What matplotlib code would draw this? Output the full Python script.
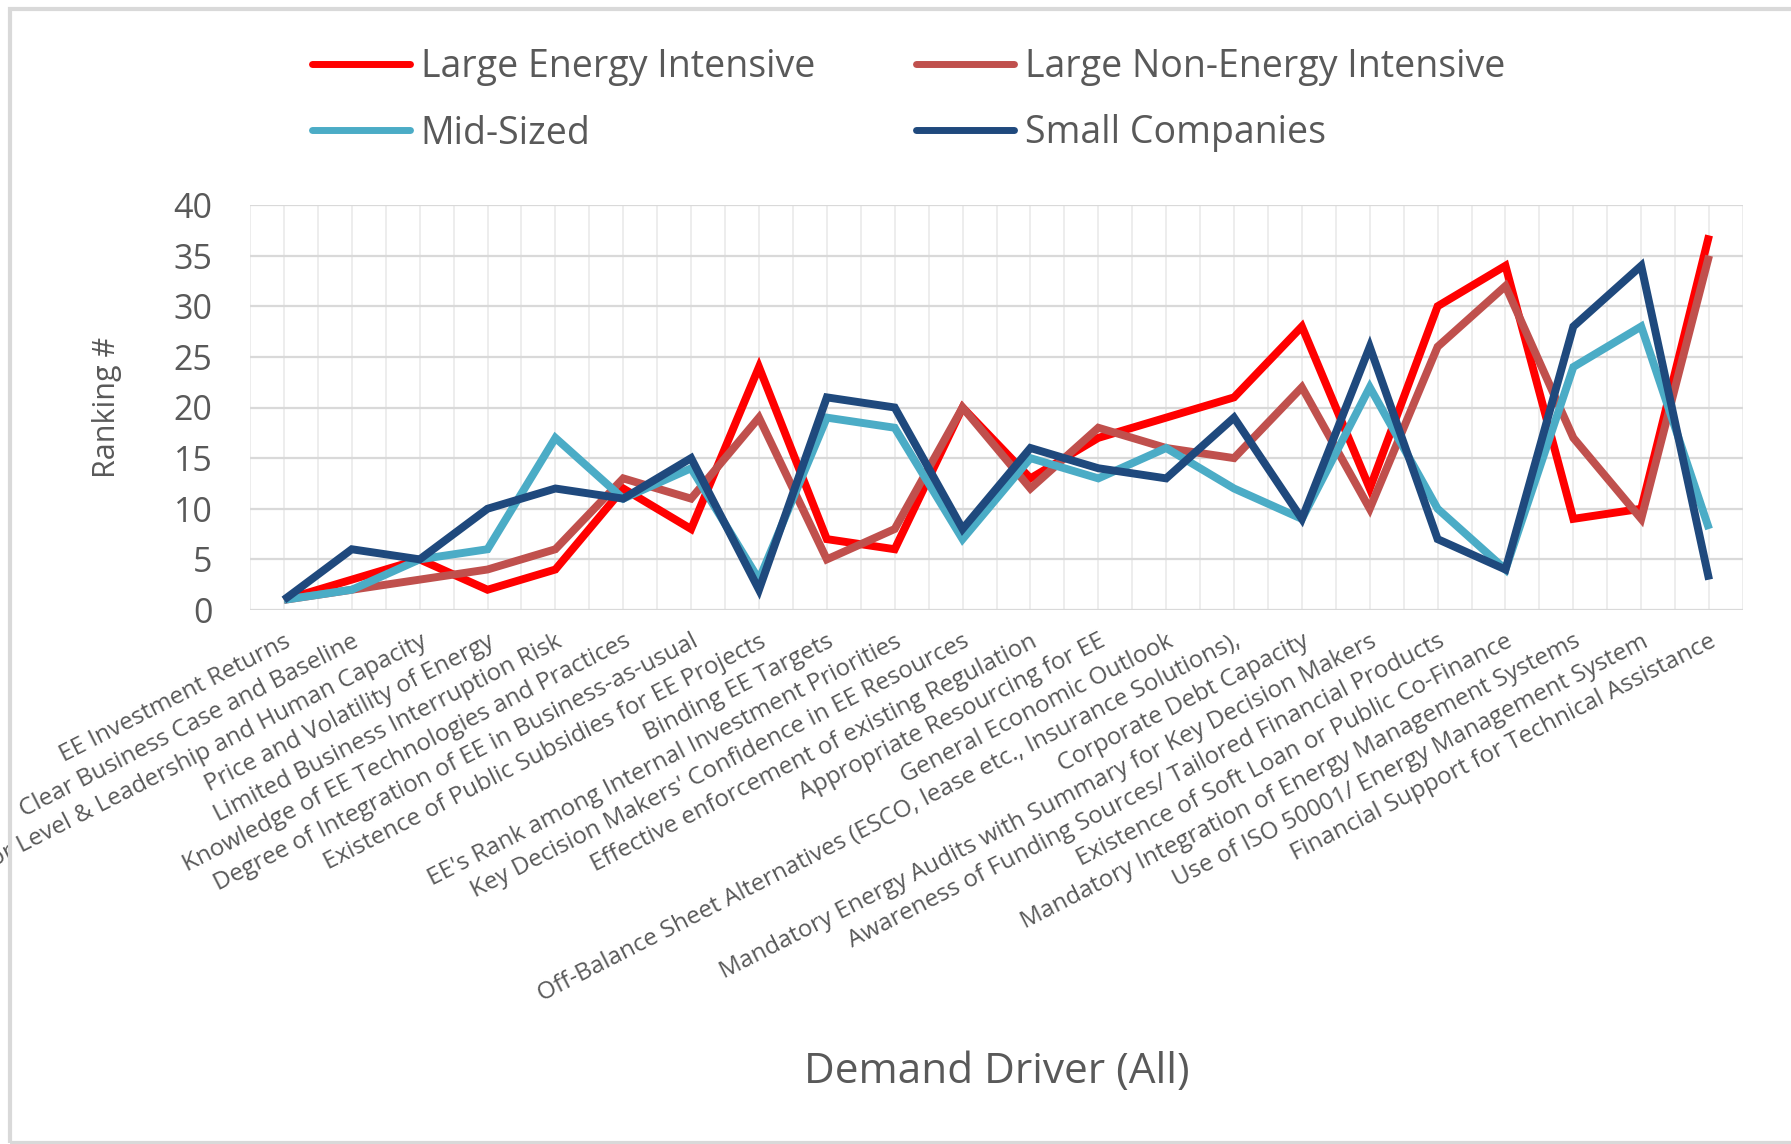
import matplotlib
matplotlib.use("Agg")
import matplotlib.pyplot as plt
from matplotlib.patches import Rectangle

# Demand drivers (x categories)
drivers = [
    "EE Investment Returns",
    "Clear Business Case and Baseline",
    "Senior Level & Leadership and Human Capacity",
    "Price and Volatility of Energy",
    "Limited Business Interruption Risk",
    "Knowledge of EE Technologies and Practices",
    "Degree of Integration of EE in Business-as-usual",
    "Existence of Public Subsidies for EE Projects",
    "Binding EE Targets",
    "EE's Rank among Internal Investment Priorities",
    "Key Decision Makers' Confidence in EE Resources",
    "Effective enforcement of existing Regulation",
    "Appropriate Resourcing for EE",
    "General Economic Outlook",
    "Off-Balance Sheet Alternatives (ESCO, lease etc., Insurance Solutions),",
    "Corporate Debt Capacity",
    "Mandatory Energy Audits with Summary for Key Decision Makers",
    "Awareness of Funding Sources/ Tailored Financial Products",
    "Existence of Soft Loan or Public Co-Finance",
    "Mandatory Integration of Energy Management Systems",
    "Use of ISO 50001/ Energy Management System",
    "Financial Support for Technical Assistance",
]

# Ranking per company segment
large_energy_intensive = [1, 3, 5, 2, 4, 12, 8, 24, 7, 6, 20, 13, 17, 19, 21, 28, 12, 30, 34, 9, 10, 37]
large_non_energy_intensive = [1, 2, 3, 4, 6, 13, 11, 19, 5, 8, 20, 12, 18, 16, 15, 22, 10, 26, 32, 17, 9, 35]
mid_sized = [1, 2, 5, 6, 17, 11, 14, 3, 19, 18, 7, 15, 13, 16, 12, 9, 22, 10, 4, 24, 28, 8]
small_companies = [1, 6, 5, 10, 12, 11, 15, 2, 21, 20, 8, 16, 14, 13, 19, 9, 26, 7, 4, 28, 34, 3]

series_names = ["Large Energy Intensive", "Large Non-Energy Intensive", "Mid-Sized", "Small Companies"]
series_colors = ["#FF0000", "#C0504D", "#4BACC6", "#1F497D"]
y_ticks = [0, 5, 10, 15, 20, 25, 30, 35, 40]

FONT = "Open Sans"
TEXT_GRAY = "#595959"
plt.rcParams["font.family"] = [FONT, "DejaVu Sans"]

W, H = 1791, 1144
fig = plt.figure(figsize=(W / 100, H / 100), dpi=100)
fig.patch.set_facecolor("white")

left, right, top, bottom = 250, 1743, 205, 610
ax = fig.add_axes([left / W, 1 - bottom / H, (right - left) / W, (bottom - top) / H])

x = list(range(len(drivers)))
all_series = [large_energy_intensive, large_non_energy_intensive, mid_sized, small_companies]
handles = []
for vals, name, col in zip(all_series, series_names, series_colors):
    ln, = ax.plot(x, vals, color=col, lw=5.7, label=name,
                  solid_joinstyle="miter", solid_capstyle="butt", zorder=3)
    handles.append(ln)

ax.set_xlim(-0.5, len(drivers) - 0.5)
ax.set_ylim(0, 40)
ax.set_yticks(y_ticks)

# light grid: horizontal at every 5, vertical at every half category
for yv in y_ticks:
    ax.axhline(yv, color="#D9D9D9", lw=1.6, zorder=1)
for i in range(2 * len(drivers) + 1):
    ax.axvline(-0.5 + i * 0.5, color="#EDEDED", lw=1.4, zorder=0)

for s in ax.spines.values():
    s.set_visible(False)

ax.tick_params(axis="y", length=0, pad=27, labelsize=24.5, labelcolor=TEXT_GRAY)
ax.set_xticks(x)
ax.set_xticklabels(drivers, rotation=27, ha="right", va="top",
                   rotation_mode="anchor", fontsize=17.5, color=TEXT_GRAY)
ax.tick_params(axis="x", length=0, pad=14)

ax.set_ylabel("Ranking #", fontsize=22, color=TEXT_GRAY)
ax.yaxis.set_label_coords(-0.086, 0.5)
ax.set_xlabel("Demand Driver (All)", fontsize=30.5, color=TEXT_GRAY)
ax.xaxis.set_label_coords(0.5, (bottom - 1072) / (bottom - top))
ax.xaxis.label.set_va("center")

# legend filled row by row: column 1 holds entries 0 and 2, column 2 entries 1 and 3
order = [0, 2, 1, 3]
leg = fig.legend(handles=[handles[i] for i in order],
                 labels=[series_names[i] for i in order], ncol=2,
                 loc="upper left", bbox_to_anchor=(312 / W, 1 - 48 / H),
                 frameon=False, fontsize=27, handlelength=2.6, handletextpad=0.3,
                 columnspacing=2.7, labelspacing=0.76, borderpad=0, borderaxespad=0)
for t in leg.get_texts():
    t.set_color(TEXT_GRAY)
for lh in leg.get_lines():
    lh.set_linewidth(5)
    lh.set_solid_capstyle("round")

# chart frame
fig.patches.append(Rectangle((10 / W, 1.5 / H), 1.2, 1 - 10.5 / H, transform=fig.transFigure,
                             fill=False, edgecolor="#D9D9D9", lw=3, zorder=0))

fig.savefig("out.png", dpi=100, facecolor="white")
